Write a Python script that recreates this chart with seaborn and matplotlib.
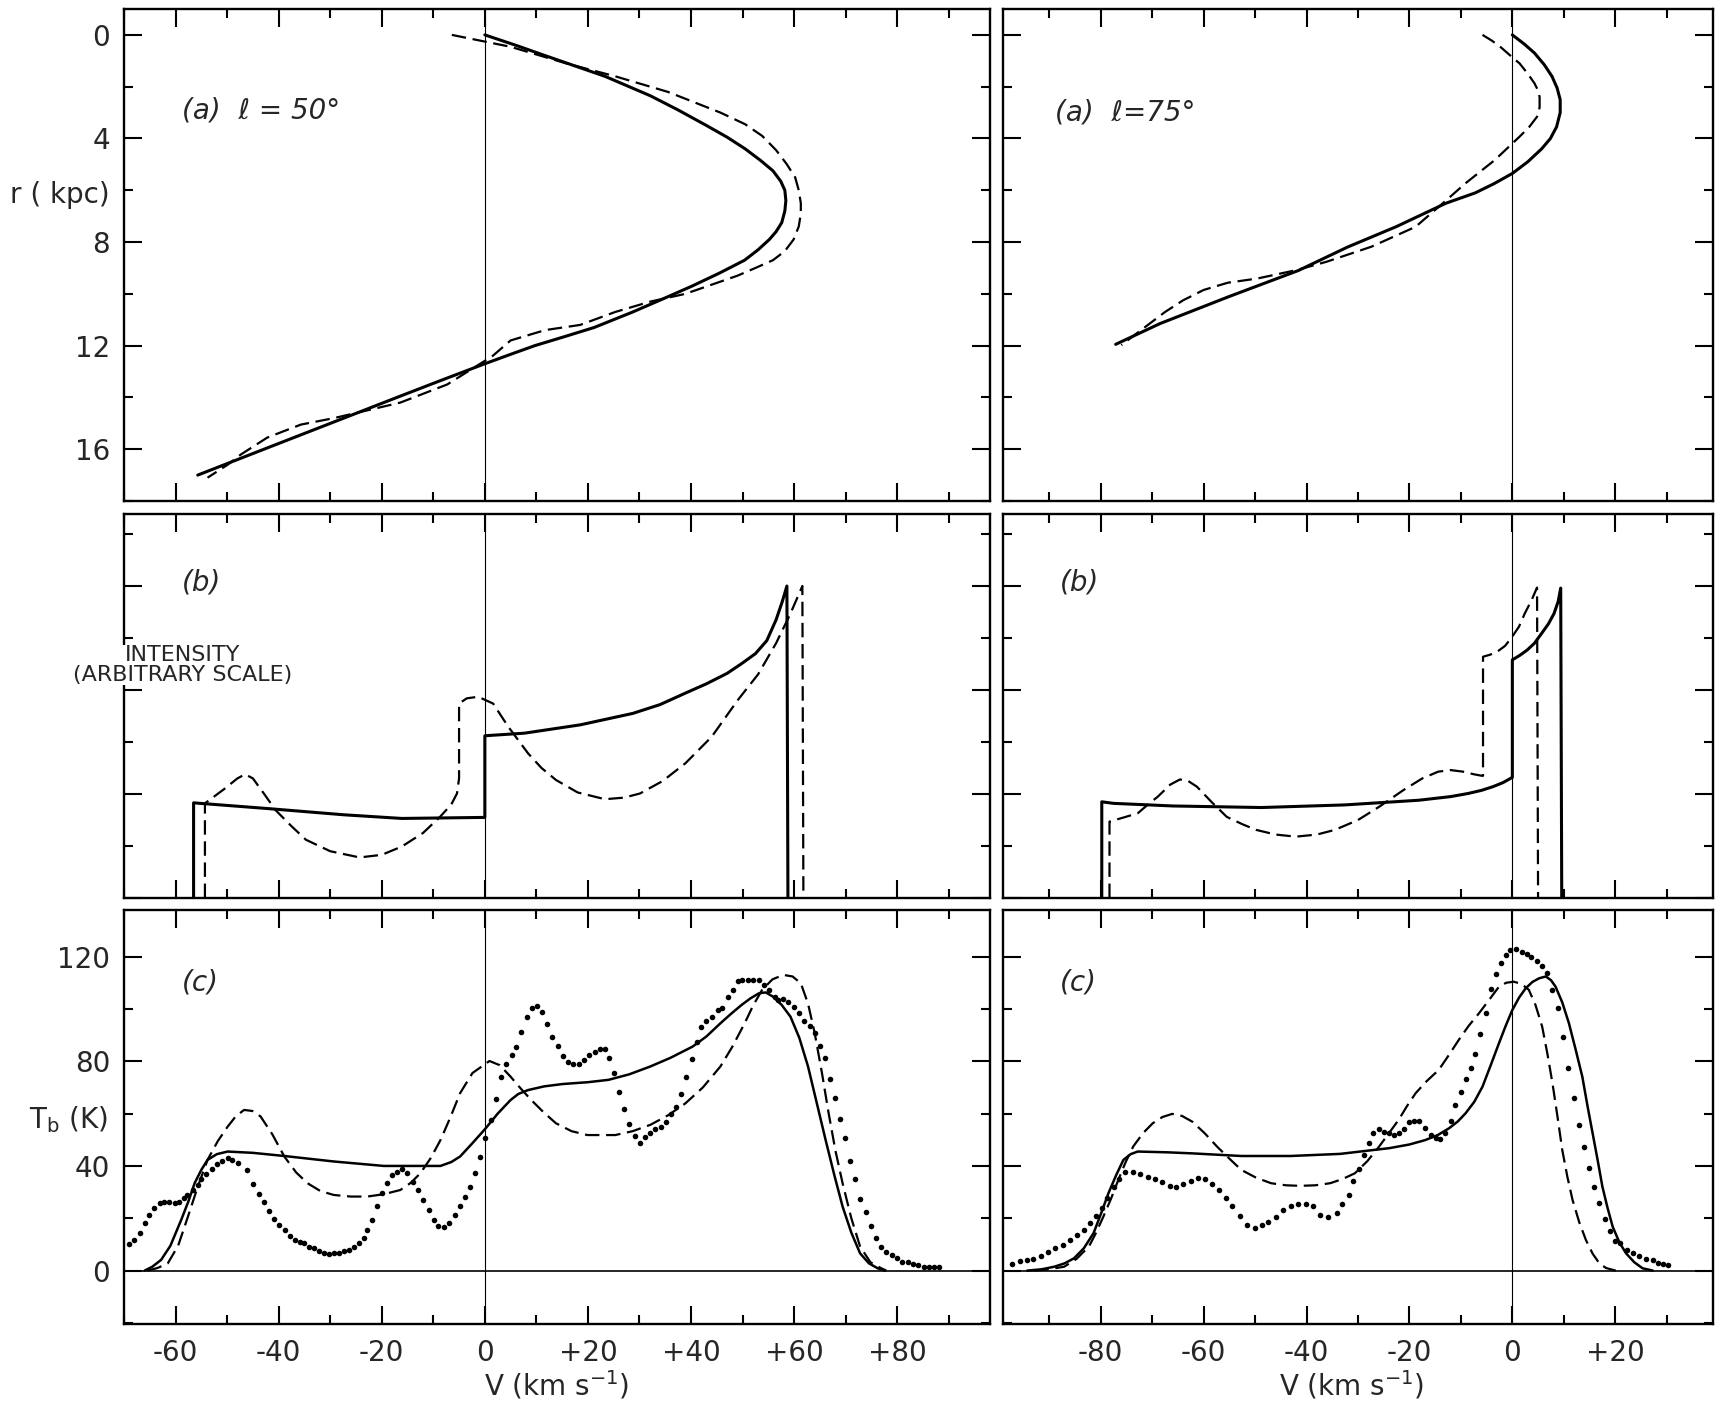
import matplotlib.pyplot as plt
import seaborn as sns
from matplotlib.ticker import MultipleLocator, FuncFormatter, NullFormatter

# ---------------- values ----------------
# (a) distance r (kpc) against radial velocity V (km/s)
a50_solid_v = [0.0, 6.0, 11.7, 17.5, 23.3, 28.0, 32.1, 37.5, 43.0, 47.0, 50.5, 53.5, 55.9,
               57.4, 58.2, 58.4, 58.2, 57.6, 56.5, 55.2, 53.0, 50.4, 45.5, 40.2, 34.5, 28.7,
               21.2, 15.5, 9.7, 4.8, 0.0, -8.6, -16.4, -29.3, -42.2, -55.7]
a50_solid_r = [0.0, 0.4, 0.8, 1.2, 1.6, 2.0, 2.35, 2.9, 3.5, 3.95, 4.4, 4.85, 5.25,
               5.65, 6.0, 6.4, 6.8, 7.25, 7.6, 7.9, 8.3, 8.7, 9.2, 9.7, 10.2, 10.7,
               11.3, 11.65, 12.0, 12.35, 12.7, 13.35, 13.95, 14.95, 15.95, 17.0]
a50_dash_v = [-6.4, 5.0, 15.8, 25.3, 35.5, 45.7, 50.5, 53.8, 56.5, 58.6, 60.2, 60.9, 61.3,
              61.3, 60.9, 59.9, 58.2, 55.9, 52.5, 49.0, 38.9, 32.1, 25.3, 18.5, 11.7, 5.0,
              1.5, -2.5, -7.3, -16.4, -22.8, -29.3, -35.7, -42.2, -47.3, -49.9, -53.8]
a50_dash_r = [0.0, 0.46, 1.1, 1.6, 2.2, 3.0, 3.45, 3.9, 4.45, 5.0, 5.5, 6.0, 6.5,
              6.9, 7.4, 7.9, 8.35, 8.7, 9.0, 9.3, 10.0, 10.3, 10.7, 11.2, 11.4, 11.8,
              12.4, 12.9, 13.5, 14.2, 14.5, 14.8, 15.05, 15.55, 16.2, 16.6, 17.1]
a75_solid_v = [0.0, 2.3, 4.3, 6.2, 7.7, 8.7, 9.3, 9.3, 8.6, 7.4, 5.7, 3.0, 0.0, -3.6, -7.2,
               -12.9, -22.5, -32.1, -41.6, -55.0, -68.5, -77.1]
a75_solid_r = [0.0, 0.35, 0.7, 1.15, 1.6, 2.05, 2.5, 3.0, 3.55, 4.0, 4.4, 4.9, 5.35, 5.75, 6.1,
               6.5, 7.4, 8.2, 9.1, 10.1, 11.15, 11.95]
a75_dash_v = [-5.8, -4.0, -2.4, -0.5, 1.4, 3.0, 4.3, 5.0, 5.3, 5.3, 4.8, 3.3, 1.4, -1.0, -3.4,
              -9.1, -13.5, -18.8, -27.4, -36.1, -41.9, -49.6, -55.3, -60.0, -64.0, -67.5,
              -70.5, -73.5, -76.0]
a75_dash_r = [0.0, 0.22, 0.45, 0.78, 1.1, 1.5, 1.87, 2.15, 2.4, 2.8, 3.16, 3.55, 3.93, 4.38,
              4.83, 5.73, 6.5, 7.41, 8.18, 8.76, 9.08, 9.41, 9.57, 9.85, 10.25, 10.7,
              11.15, 11.6, 11.98]

# (b) intensity (arbitrary scale) against V
b50_solid_v = [-56.5, -56.5, -42.1, -27.3, -16.1, 0.0, 0.0, 7.7, 18.5, 28.7, 34.0, 38.9, 43.0,
               47.0, 50.0, 52.5, 54.7, 56.5, 57.7, 58.6, 58.8]
b50_solid_i = [0.0, 1.83, 1.72, 1.6, 1.53, 1.55, 3.12, 3.17, 3.33, 3.55, 3.72, 3.94, 4.12,
               4.32, 4.52, 4.7, 4.95, 5.35, 5.7, 6.0, 0.0]
b50_dash_v = [-54.3, -54.3, -50.5, -48.0, -46.5, -45.0, -42.8, -40.6, -37.5, -34.7, -30.0,
              -24.3, -20.0, -16.1, -12.0, -8.7, -6.5, -5.4, -5.0, -5.0, -3.5, -1.3, 1.6, 4.5,
              8.4, 11.0, 13.8, 18.0, 23.3, 27.0, 30.1, 34.5, 38.9, 44.0, 49.1, 53.0, 56.5,
              59.2, 61.6, 61.8]
b50_dash_i = [0.0, 1.82, 2.1, 2.3, 2.38, 2.3, 2.0, 1.69, 1.38, 1.12, 0.9,
              0.78, 0.83, 0.99, 1.25, 1.56, 1.8, 2.01, 2.3, 3.74, 3.84, 3.87, 3.74, 3.3,
              2.78, 2.5, 2.27, 2.03, 1.9, 1.93, 2.01, 2.25, 2.59, 3.1, 3.81, 4.3, 4.9,
              5.45, 6.0, 0.0]
b75_solid_v = [-79.8, -79.8, -77.5, -66.0, -48.8, -32.6, -18.2, -12.0, -8.6, -6.0, -3.8, -1.8,
               0.0, 0.0, 1.5, 2.9, 4.3, 5.7, 7.0, 8.1, 8.9, 9.4, 9.6]
b75_solid_i = [0.0, 1.85, 1.82, 1.77, 1.74, 1.79, 1.88, 1.95, 2.01, 2.07, 2.14, 2.22,
               2.32, 4.58, 4.67, 4.77, 4.9, 5.09, 5.27, 5.47, 5.7, 5.96, 0.0]
b75_dash_v = [-78.3, -78.3, -75.5, -72.8, -70.8, -68.9, -66.5, -64.6, -63.0, -61.3, -58.5,
              -55.5, -52.5, -49.8, -46.0, -42.1, -38.0, -34.5, -30.0, -25.8, -21.1, -17.5,
              -14.4, -12.0, -9.6, -7.5, -5.9, -5.7, -5.7, -4.3, -2.9, -1.4, 0.0, 1.3, 2.4,
              3.7, 4.8, 5.0]
b75_dash_i = [0.0, 1.47, 1.55, 1.63, 1.8, 1.95, 2.18, 2.28, 2.25, 2.14, 1.85,
              1.56, 1.42, 1.31, 1.22, 1.18, 1.22, 1.31, 1.5, 1.76, 2.08, 2.3,
              2.43, 2.46, 2.43, 2.38, 2.35, 2.35, 4.64, 4.68, 4.74, 4.85, 5.03, 5.22, 5.47,
              5.72, 5.97, 0.0]

# (c) brightness temperature Tb (K) against V
c50_solid_v = [-66.0, -64.5, -62.8, -61.0, -58.9, -57.5, -56.3, -55.0, -53.8, -52.0, -49.9,
               -45.0, -38.9, -29.3, -19.6, -8.6, -6.5, -4.8, -2.5, 0.0, 2.5, 5.0, 6.5, 8.4,
               11.5, 15.1, 20.0, 24.0, 28.0, 32.1, 36.0, 40.3, 43.0, 45.7, 47.8, 49.8, 51.5,
               53.2, 54.5, 55.9, 57.6, 59.3, 61.0, 62.7, 64.4, 66.1, 67.8, 69.4, 71.1, 72.8,
               74.5, 76.2, 77.6]
c50_solid_t = [0.0, 1.5, 4.1, 9.5, 19.4, 26.5, 33.4, 38.5, 42.3, 44.5, 45.5,
               45.0, 43.8, 41.7, 40.0, 40.0, 41.5, 43.6, 48.5, 54.0, 60.0, 65.2, 67.5, 69.0,
               70.4, 71.3, 72.0, 72.9, 75.0, 78.0, 81.3, 85.6, 89.5, 94.5, 98.2, 101.5, 104.0,
               106.0, 106.3, 104.7, 101.5, 97.0, 89.0, 78.0, 64.0, 50.0, 36.5, 24.5, 14.5, 6.6,
               2.8, 0.9, 0.0]
c50_dash_v = [-65.4, -63.5, -61.5, -59.5, -57.6, -55.7, -53.8, -51.8, -49.9, -48.3, -46.7,
              -45.1, -43.5, -41.2, -38.9, -36.6, -34.4, -31.9, -29.3, -26.0, -22.8, -19.6,
              -16.4, -14.4, -12.5, -10.5, -8.6, -6.7, -4.8, -2.4, 0.9, 2.9, 5.0, 7.0, 9.0,
              11.4, 13.8, 16.8, 19.9, 25.3, 28.7, 32.1, 35.5, 38.9, 42.3, 45.7, 48.0, 50.4,
              52.1, 53.8, 55.8, 57.9, 59.7, 61.3, 62.7, 64.0, 65.4, 66.7, 68.0, 69.4, 71.1,
              72.8, 74.8, 76.9, 77.9]
c50_dash_t = [0.0, 1.0, 2.8, 9.5, 20.6, 32.0, 42.3, 49.5, 55.0, 59.0, 61.4,
              61.0, 58.9, 52.0, 43.6, 37.5, 33.4, 30.4, 28.9, 28.3, 28.3, 29.2,
              30.8, 33.5, 37.2, 43.0, 49.9, 58.5, 67.8, 75.5, 80.1, 78.5, 74.1, 69.5, 65.2,
              60.5, 56.3, 53.3, 51.8, 51.8, 53.3, 55.7, 59.3, 63.9, 70.0, 78.0, 85.5, 94.5,
              101.5, 107.3, 111.3, 113.0, 112.4, 109.8, 102.0, 90.7, 75.5, 60.1, 46.0, 33.4, 20.0,
              9.2, 3.2, 0.9, 0.0]
c50_obs_v = [-69.0, -68.0, -66.8, -65.9, -65.1, -64.1, -63.1, -62.2, -61.2, -60.2, -59.3, -58.4,
             -57.7, -56.7, -55.7, -55.0, -54.0, -53.0, -52.0, -51.0, -49.9, -49.0, -47.9, -46.1,
             -44.9, -43.8, -42.8, -41.9, -40.9, -39.9, -38.8, -37.7, -36.8, -35.9, -35.1, -34.1,
             -33.2, -32.2, -31.2, -30.2, -29.3, -28.3, -27.3, -26.4, -25.4, -24.4, -23.5, -22.8,
             -21.9, -20.9, -19.9, -19.0, -18.0, -17.0, -16.1, -15.1, -13.9, -13.0, -11.9, -10.9,
             -9.9, -9.0, -8.0, -7.0, -5.7, -4.8, -3.8, -2.8, -1.9, -0.9, 0.1,
             1.2, 2.2, 3.1, 4.1, 5.2, 6.0, 7.0, 8.2, 9.2, 10.1, 11.1, 12.1, 13.0, 14.1, 15.1,
             16.2, 17.2, 18.2, 19.2, 20.2, 21.3, 22.3, 23.3, 24.1, 25.1, 26.1, 27.0, 28.0, 29.1,
             30.1, 31.1, 32.1, 33.1, 34.2, 35.2, 36.1, 37.0, 38.1, 39.1, 40.1, 41.1, 42.0, 43.0,
             44.0, 45.2, 46.0, 47.1, 48.1, 49.1, 49.9, 51.0, 52.1, 53.2, 54.2, 55.2, 56.2, 56.9,
             57.9, 58.9, 60.0, 61.0, 62.0, 63.0, 64.0, 65.0, 65.9, 66.9, 68.0, 68.9, 69.9, 70.9,
             71.8, 72.8, 73.9, 74.9, 75.9, 76.9, 77.9, 79.0, 80.0, 81.0, 82.0, 83.0, 84.1, 85.1,
             86.1, 87.1, 88.1]
c50_obs_t = [10.2, 11.7, 14.3, 18.1, 21.3, 23.8, 25.7, 26.4, 26.1, 26.0, 26.4, 27.6,
             28.9, 30.8, 32.7, 34.9, 36.9, 38.7, 40.6, 41.8, 42.9, 42.3, 41.3, 38.5,
             33.1, 29.2, 26.1, 22.6, 19.6, 17.5, 15.5, 13.3, 11.7, 11.1, 10.5, 9.2,
             8.5, 7.5, 6.6, 6.4, 6.9, 6.6, 7.6, 7.9, 9.2, 10.5, 12.4, 15.5,
             19.4, 24.5, 29.6, 33.4, 36.6, 37.8, 38.7, 37.2, 34.0, 30.8, 27.0, 23.2,
             19.4, 17.1, 16.6, 18.1, 21.3, 24.5, 28.3, 32.1, 37.2, 43.6, 50.6,
             57.6, 65.5, 74.1, 78.9, 82.4, 85.6, 91.0, 96.8, 100.3, 101.2, 98.7, 94.3, 89.4, 85.9,
             82.0, 79.9, 79.0, 79.0, 80.5, 82.3, 83.7, 84.8, 84.7, 81.2, 75.4, 68.2, 61.8, 55.9,
             51.6, 48.9, 51.0, 52.5, 54.0, 55.0, 56.6, 59.8, 62.7, 67.5, 74.1, 80.8, 87.3, 93.0,
             95.2, 96.8, 99.6, 100.3, 104.7, 107.3, 110.5, 111.1, 111.1, 111.1, 111.1, 109.2,
             107.3, 104.7, 103.4, 103.7, 102.6, 100.9, 98.6, 95.2, 93.3, 90.7, 86.0, 81.4, 73.3,
             66.1, 58.0, 50.8, 41.7, 34.9, 27.4, 22.3, 17.2, 12.4, 8.9, 7.3, 6.0, 4.7, 3.4, 3.4,
             2.4, 2.2, 1.5, 1.2, 1.2, 1.2]
c75_solid_v = [-94.3, -91.5, -89.0, -87.0, -85.2, -83.3, -81.4, -80.0, -78.5, -77.0, -75.6,
               -74.2, -72.8, -67.0, -62.2, -52.7, -43.1, -33.5, -23.9, -20.0, -16.9, -14.5,
               -12.3, -10.6, -9.1, -7.4, -5.8, -4.2, -2.6, -1.3, 0.0, 1.3, 2.6, 3.9, 5.2, 6.5,
               7.5, 8.4, 9.7, 11.0, 12.3, 13.6, 14.6, 15.6, 16.6, 17.5, 18.5, 19.5, 20.8, 22.1,
               23.7, 25.3, 27.3]
c75_solid_t = [0.0, 0.5, 1.5, 2.8, 4.7, 8.5, 14.3, 21.5, 29.6, 36.5, 42.3,
               44.5, 45.5, 45.2, 44.8, 43.8, 43.8, 44.6, 46.8, 48.2, 49.9, 51.8,
               54.4, 57.0, 60.1, 64.5, 70.3, 78.5, 86.9, 93.5, 99.6, 104.3, 107.9, 110.3, 111.7,
               112.4, 111.0, 108.5, 102.5, 94.5, 84.5, 74.1, 63.0, 52.5, 42.0, 32.1, 24.0, 16.8,
               10.8, 6.6, 3.2, 0.9, 0.0]
c75_dash_v = [-92.9, -90.0, -87.1, -84.7, -82.3, -80.9, -79.5, -78.0, -76.6, -75.2, -73.7,
              -71.8, -69.9, -68.0, -66.1, -64.2, -62.2, -59.8, -57.4, -55.0, -52.7, -49.8,
              -46.9, -44.0, -41.2, -38.3, -35.4, -33.0, -30.6, -28.2, -25.9, -24.0, -22.1,
              -20.5, -18.8, -16.6, -14.3, -12.4, -10.4, -8.5, -6.5, -4.5, -2.6, -1.2, 0.3,
              1.8, 3.2, 4.5, 5.8, 6.8, 7.8, 8.8, 9.7, 10.7, 11.7, 13.0, 14.3, 15.6, 16.9,
              18.2, 19.5, 20.1]
c75_dash_t = [0.0, 0.5, 1.5, 4.5, 9.2, 14.5, 20.6, 27.5, 34.6, 41.3, 47.4,
              52.5, 56.3, 58.7, 59.9, 59.1, 56.9, 52.5, 47.4, 42.8, 38.5, 35.5,
              33.4, 32.6, 32.4, 32.6, 33.4, 35.0, 37.2, 41.8, 47.4, 52.5, 57.6,
              62.8, 67.8, 72.5, 76.7, 82.2, 88.2, 93.5, 98.3, 103.5, 108.5, 110.0, 110.4,
              109.5, 107.3, 101.5, 93.2, 83.0, 71.6, 58.5, 46.1, 35.8, 27.0, 18.5, 11.7, 6.5, 2.8,
              1.0, 0.3, 0.0]
c75_obs_v = [-97.2, -95.7, -94.3, -93.1, -91.6, -90.2, -88.8, -87.3, -86.0, -84.7, -83.3, -82.0,
             -80.9, -79.7, -78.7, -77.5, -76.4, -75.2, -73.7, -72.3, -70.8, -69.4, -68.0, -66.5,
             -65.3, -64.0, -62.5, -61.1, -59.8, -58.4, -57.0, -55.7, -54.4, -52.9, -51.5, -50.1,
             -48.6, -47.4, -46.0, -44.5, -43.1, -41.6, -40.2, -38.8, -37.3, -35.9,
             -34.1, -33.1, -31.8, -30.9, -29.9, -28.9, -27.9, -27.0, -26.0, -25.0, -24.0, -23.1,
             -22.1, -21.1, -20.1, -19.2, -18.2, -16.9, -15.9, -14.9, -14.0, -13.0, -12.0, -11.1,
             -9.9, -9.1, -8.1, -7.2, -6.2, -5.2, -4.2, -3.2, -2.3, -1.3, -0.5, 0.8, 1.8, 2.8,
             3.7, 4.7, 5.7, 6.8, 7.8, 8.8, 9.9, 10.9, 12.0, 13.0, 14.0, 14.9, 15.9, 16.9, 18.1,
             19.0, 20.0, 21.0, 22.3, 23.4, 24.7, 26.0, 27.3, 28.3, 29.2, 30.2]
c75_obs_t = [2.6, 3.8, 4.1, 4.3, 5.6, 7.3, 8.5, 9.8, 11.7, 13.6, 15.5, 18.1,
             20.9, 23.8, 27.6, 32.1, 34.9, 37.8, 37.5, 36.9, 35.9, 34.9, 34.0, 32.4,
             32.1, 33.1, 34.3, 35.3, 34.9, 33.1, 30.8, 27.6, 24.5, 20.9, 17.5, 16.2,
             17.5, 18.7, 20.6, 23.2, 24.7, 25.5, 25.5, 24.5, 21.3, 20.4,
             21.9, 25.5, 28.9, 34.3, 38.7, 44.2, 48.9, 52.5, 54.0, 53.1, 52.5, 51.9,
             52.7, 54.0, 56.9, 57.3, 57.3, 54.4, 51.9, 50.6, 50.2, 52.5, 57.3, 63.3,
             68.4, 73.3, 77.3, 82.8, 90.5, 98.6, 107.5, 113.4, 117.5, 120.6, 122.6, 122.8, 121.9,
             121.0, 120.0, 118.5, 116.4, 113.6, 107.3, 100.3, 89.2, 77.3, 65.9, 55.7, 47.1, 39.4,
             32.1, 25.7, 19.8, 15.2, 11.5, 10.5, 7.9, 6.6, 5.6, 4.3, 4.1, 3.1, 2.4, 2.2]

# ---------------- styling ----------------
sns.set_style("ticks")
plt.rcParams["font.family"] = ["DejaVu Sans"]
plt.rcParams["mathtext.default"] = "regular"
plt.rcParams["lines.solid_joinstyle"] = "round"
plt.rcParams["lines.dash_joinstyle"] = "round"

W, H = 1720, 1403
fig = plt.figure(figsize=(W / 100, H / 100), dpi=100)


def box(x0, x1, y0, y1):
    return [x0 / W, 1 - y1 / H, (x1 - x0) / W, (y1 - y0) / H]


col_x = [(124, 990), (1003, 1713)]
row_y = [(9, 501), (514, 898), (910, 1324)]
xlims = [(-70, 98), (-99, 39)]
axes = [[fig.add_axes(box(*cx, *ry)) for cx in col_x] for ry in row_y]

DASH = (0, (6.5, 3))


def curve(ax, v, y, dashed=False, lw=2.2):
    sns.lineplot(x=v, y=y, ax=ax, sort=False, estimator=None, color="k",
                 linewidth=1.6 if dashed else lw, linestyle=DASH if dashed else "-",
                 legend=False)


def observed(ax, v, t):
    sns.scatterplot(x=v, y=t, ax=ax, color="k", s=16, linewidth=0, legend=False, zorder=3)


# row (a)
curve(axes[0][0], a50_solid_v, a50_solid_r)
curve(axes[0][0], a50_dash_v, a50_dash_r, dashed=True)
curve(axes[0][1], a75_solid_v, a75_solid_r)
curve(axes[0][1], a75_dash_v, a75_dash_r, dashed=True)
# row (b)
curve(axes[1][0], b50_solid_v, b50_solid_i)
curve(axes[1][0], b50_dash_v, b50_dash_i, dashed=True)
curve(axes[1][1], b75_solid_v, b75_solid_i)
curve(axes[1][1], b75_dash_v, b75_dash_i, dashed=True)
# row (c)
curve(axes[2][0], c50_solid_v, c50_solid_t, lw=1.8)
curve(axes[2][0], c50_dash_v, c50_dash_t, dashed=True)
observed(axes[2][0], c50_obs_v, c50_obs_t)
curve(axes[2][1], c75_solid_v, c75_solid_t, lw=1.8)
curve(axes[2][1], c75_dash_v, c75_dash_t, dashed=True)
observed(axes[2][1], c75_obs_v, c75_obs_t)


def vel_fmt(v, pos):
    return "0" if round(v) == 0 else f"{v:+.0f}"


row_ylim = [(18, -1), (0, 7.385), (-20.4, 137.8)]
row_major = [4, 2, 40]
row_minor = [2, 1, 20]

for i, row in enumerate(axes):
    for j, ax in enumerate(row):
        ax.set_xlim(*xlims[j])
        ax.set_ylim(*row_ylim[i])
        ax.set_xlabel("")
        ax.set_ylabel("")
        ax.xaxis.set_major_locator(MultipleLocator(20))
        ax.xaxis.set_minor_locator(MultipleLocator(10))
        ax.yaxis.set_major_locator(MultipleLocator(row_major[i]))
        ax.yaxis.set_minor_locator(MultipleLocator(row_minor[i]))
        ax.tick_params(which="both", direction="in", top=True, right=True,
                       width=1.5, labelsize=20, color="k")
        ax.tick_params(which="major", length=13)
        ax.tick_params(which="minor", length=6.5)
        ax.tick_params(axis="x", pad=11)
        ax.tick_params(axis="y", pad=10)
        for s in ax.spines.values():
            s.set_linewidth(1.7)
            s.set_color("k")
        ax.axvline(0, color="k", lw=0.8, zorder=1)
        if i == 2:
            ax.axhline(0, color="k", lw=1.2, zorder=1)
            ax.xaxis.set_major_formatter(FuncFormatter(vel_fmt))
        else:
            ax.xaxis.set_major_formatter(NullFormatter())
        if j == 1 or i == 1:
            ax.yaxis.set_major_formatter(NullFormatter())


def ftext(x, y, s, **kw):
    fig.text(x / W, 1 - y / H, s, **kw)


ftext(182, 110, "(a)  \u2113 = 50\u00b0", fontsize=20, style="italic", va="center")
ftext(1055, 112, "(a)  \u2113=75\u00b0", fontsize=20, style="italic", va="center")
for x0 in (182, 1060):
    ftext(x0, 582, "(b)", fontsize=20, style="italic", va="center")
    ftext(x0, 982, "(c)", fontsize=20, style="italic", va="center")

ftext(110, 195, "r ( kpc)", fontsize=20, ha="right", va="center")
ftext(108, 1120, "T$_b$ (K)", fontsize=20, ha="right", va="center")
ftext(183, 665, "INTENSITY\n(ARBITRARY SCALE)", fontsize=16, ha="center", va="center",
      linespacing=1.0, bbox=dict(facecolor="white", edgecolor="none", pad=0))
ftext(557, 1385, "V (km s$^{-1}$)", fontsize=20, ha="center", va="center")
ftext(1352, 1385, "V (km s$^{-1}$)", fontsize=20, ha="center", va="center")

fig.savefig("out.png", dpi=100, facecolor="white")
